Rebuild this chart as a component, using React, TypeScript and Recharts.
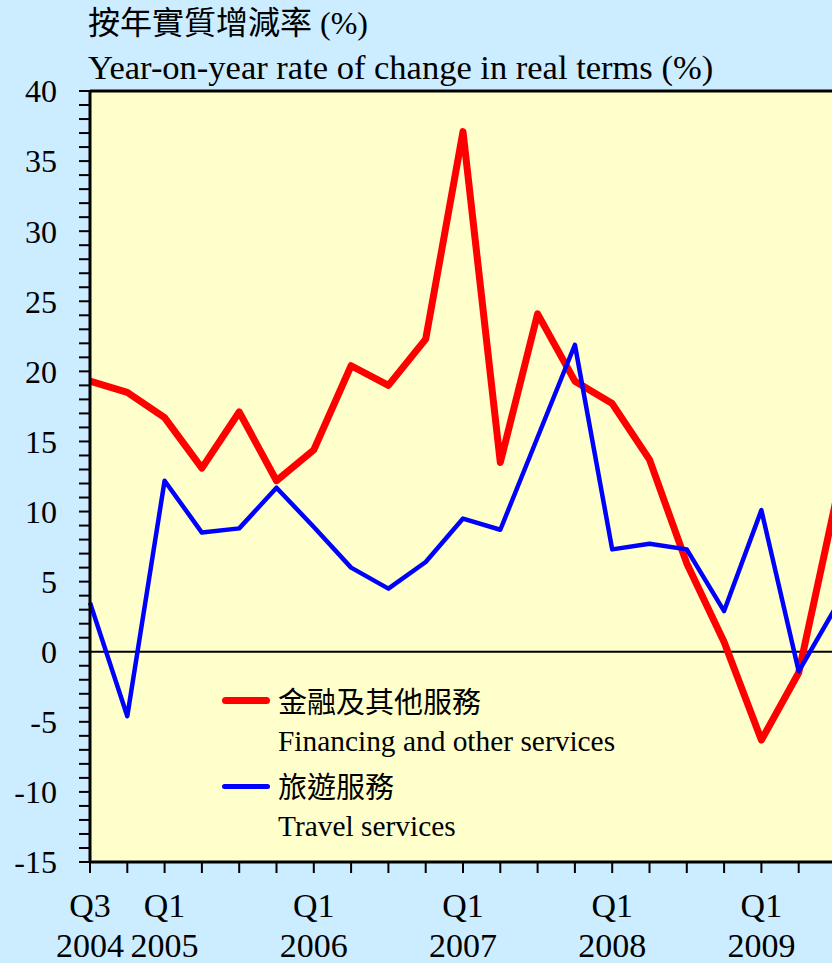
import { LineChart, Line, XAxis, YAxis, CartesianGrid, ReferenceLine } from "recharts"

const FONT = "'Liberation Serif', 'Noto Sans CJK TC', serif"

const quarters = [
  "2004Q3", "2004Q4",
  "2005Q1", "2005Q2", "2005Q3", "2005Q4",
  "2006Q1", "2006Q2", "2006Q3", "2006Q4",
  "2007Q1", "2007Q2", "2007Q3", "2007Q4",
  "2008Q1", "2008Q2", "2008Q3", "2008Q4",
  "2009Q1", "2009Q2", "2009Q3",
]
const quarterLabels = [
  "Q3", "", "Q1", "", "", "", "Q1", "", "", "", "Q1", "", "", "", "Q1", "", "", "", "Q1", "", "",
]
const yearLabels = [
  "2004", "", "2005", "", "", "", "2006", "", "", "", "2007", "", "", "", "2008", "", "", "", "2009", "", "",
]

// 金融及其他服務 Financing and other services
const financing = [
  19.3, 18.5, 16.7, 13.1, 17.1, 12.2, 14.4, 20.4, 19.0, 22.3,
  37.1, 13.5, 24.1, 19.3, 17.7, 13.7, 6.3, 0.7, -6.3, -1.5, 10.8,
]
// 旅遊服務 Travel services
const travel = [
  3.5, -4.6, 12.2, 8.5, 8.8, 11.7, 8.9, 6.0, 4.5, 6.4,
  9.5, 8.7, 15.3, 21.9, 7.3, 7.7, 7.3, 2.9, 10.1, -1.4, 3.2,
]

const yTicks = [
  -15, -14, -13, -12, -11, -10, -9, -8, -7, -6, -5, -4, -3, -2, -1,
  0, 1, 2, 3, 4, 5, 6, 7, 8, 9, 10, 11, 12, 13, 14, 15, 16, 17, 18, 19,
  20, 21, 22, 23, 24, 25, 26, 27, 28, 29, 30, 31, 32, 33, 34, 35, 36, 37, 38, 39, 40,
]

const seriesZh = ["金融及其他服務", "旅遊服務"]
const seriesEn = ["Financing and other services", "Travel services"]
const seriesColors = ["#FF0000", "#0000FF"]

const data = quarters.map((q, i) => ({
  q,
  financing: financing[i],
  travel: travel[i],
}))

const XTick = (props: any) => {
  const { x, y, payload } = props
  const i = quarters.indexOf(payload.value)
  return (
    <g fontFamily={FONT} fontSize={34} fill="#000">
      <text x={x} y={y + 42} textAnchor="middle">{quarterLabels[i]}</text>
      <text x={x} y={y + 82} textAnchor="middle">{yearLabels[i]}</text>
    </g>
  )
}

export default function App() {
  return (
    <div
      style={{
        position: "absolute",
        left: 0,
        top: 0,
        width: 832,
        height: 963,
        overflow: "hidden",
        background: "#CCECFF",
        fontFamily: FONT,
        color: "#000",
      }}
    >
      <div style={{ position: "absolute", left: 88, top: 5, fontSize: 32, lineHeight: "36px", whiteSpace: "nowrap" }}>
        按年實質增減率 (%)
      </div>
      <div style={{ position: "absolute", left: 88, top: 49, fontSize: 34.5, lineHeight: "36px", whiteSpace: "nowrap" }}>
        Year-on-year rate of change in real terms (%)
      </div>

      <LineChart
        width={840}
        height={963}
        data={data}
        margin={{ top: 91, right: 4, left: 0, bottom: 0 }}
        style={{ position: "absolute", left: 0, top: 0 }}
      >
        <CartesianGrid fill="#FFFFCC" horizontal={false} vertical={false} />
        <XAxis
          dataKey="q"
          scale="point"
          padding={{ left: 0, right: 0 }}
          interval={0}
          height={101}
          tickSize={11}
          tick={<XTick />}
          axisLine={{ stroke: "#000", strokeWidth: 3 }}
          tickLine={{ stroke: "#000", strokeWidth: 2 }}
        />
        <YAxis
          type="number"
          domain={[-15, 40]}
          ticks={yTicks}
          interval={0}
          width={90}
          tickSize={11}
          tickMargin={22}
          tickFormatter={(v: number) => (v % 5 === 0 ? String(v) : "")}
          tick={{ fontSize: 32, fill: "#000", fontFamily: FONT }}
          axisLine={{ stroke: "#000", strokeWidth: 3 }}
          tickLine={{ stroke: "#000", strokeWidth: 2 }}
        />
        <ReferenceLine y={40} stroke="#000" strokeWidth={3} />
        <ReferenceLine y={0} stroke="#000" strokeWidth={2} />
        <Line
          dataKey="financing"
          name={seriesZh[0]}
          stroke={seriesColors[0]}
          strokeWidth={7}
          strokeLinejoin="round"
          dot={false}
          activeDot={false}
          isAnimationActive={false}
        />
        <Line
          dataKey="travel"
          name={seriesZh[1]}
          stroke={seriesColors[1]}
          strokeWidth={4.5}
          strokeLinejoin="round"
          dot={false}
          activeDot={false}
          isAnimationActive={false}
        />
      </LineChart>

      {seriesZh.map((zh, i) => (
        <div key={zh} style={{ position: "absolute", left: 220, top: 684 + i * 85 }}>
          <div
            style={{
              position: "absolute",
              left: 2,
              top: i === 0 ? 13 : 15,
              width: 48,
              height: i === 0 ? 7 : 5,
              borderRadius: 4,
              background: seriesColors[i],
            }}
          />
          <div style={{ position: "absolute", left: 58, top: 2, fontSize: 29, lineHeight: "34px", whiteSpace: "nowrap" }}>
            {zh}
          </div>
          <div style={{ position: "absolute", left: 58, top: 40, fontSize: 29.4, lineHeight: "34px", whiteSpace: "nowrap" }}>
            {seriesEn[i]}
          </div>
        </div>
      ))}
    </div>
  )
}
